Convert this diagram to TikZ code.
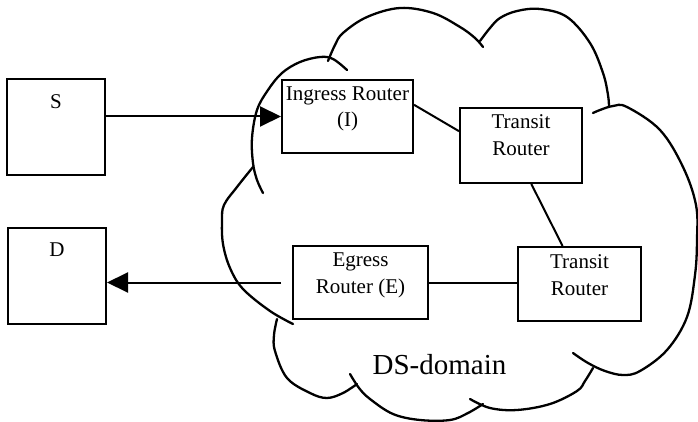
\documentclass[tikz,border=0pt]{standalone}
\usepackage{fontspec}
\setmainfont{Liberation Serif}
\usetikzlibrary{arrows.meta}
\begin{document}
\begin{tikzpicture}[x=1pt,y=-1pt,
  cloudline/.style={line width=2.3pt, line cap=round},
  routerbox/.style={draw, line width=2pt, rectangle, fill=white, inner sep=0pt},
  lbl/.style={anchor=north, inner sep=0pt, align=center, font=\fontsize{21}{26.5}\selectfont},
  conn/.style={line width=2pt},
  arr/.style={line width=2pt, -{Triangle[length=21pt,width=20pt]}}]
\useasboundingbox (0,0) rectangle (698,422);
% cloud
\draw[cloudline] plot[smooth, tension=0.6] coordinates {(347,70) (333,59) (320,57) (300,62) (282,73) (268,90) (257,110) (252,138) (253,163) (257,180) (263,193)};
\draw[cloudline] plot[smooth, tension=0.6] coordinates {(328,61) (335,45) (343,33) (367,17) (400,8) (433,13) (460,27) (475,38) (483,47)};
\draw[cloudline] plot[smooth, tension=0.6] coordinates {(480,41) (490,28) (500,18) (517,11) (540,9) (567,17) (590,43) (603,73) (608,95) (609,107)};
\draw[cloudline] plot[smooth, tension=0.6] coordinates {(593,113) (600,110) (613,106) (627,107) (660,130) (683,167) (696,205) (697,240) (695,275) (687,317) (667,350) (640,371) (623,375) (605,371) (588,363) (573,353)};
\draw[cloudline] plot[smooth, tension=0.6] coordinates {(593,368) (585,381) (577,391) (550,404) (517,410) (490,408) (470,399)};
\draw[cloudline] plot[smooth, tension=0.6] coordinates {(350,374) (359,388) (370,399) (393,414) (420,420) (450,420) (468,413) (483,404)};
\draw[cloudline] plot[smooth, tension=0.6] coordinates {(277,319) (274,335) (275,351) (287,378) (310,393) (327,398) (343,393) (357,384)};
\draw[cloudline] plot[smooth, tension=0.6] coordinates {(293,324) (270,311) (243,289) (230,268) (223,244) (222,221) (224,205) (237,187) (253,167)};
% boxes
\node[routerbox, minimum width=98, minimum height=96,
  label={[lbl, yshift=-16pt]north:S}] (S) at (56,127) {};
\node[routerbox, minimum width=98, minimum height=96,
  label={[lbl, yshift=-16pt]north:D}] (D) at (57,276) {};
\node[routerbox, minimum width=131, minimum height=73,
  label={[lbl, yshift=-7.5pt]north:{Ingress Router\\(I)}}] (ing) at (347.5,116.5) {};
\node[routerbox, minimum width=122, minimum height=75,
  label={[lbl, yshift=-7.5pt]north:{Transit\\Router}}] (t1) at (521,145.5) {};
\node[routerbox, minimum width=123, minimum height=74,
  label={[lbl, yshift=-8.5pt]north:{Transit\\Router}}] (t2) at (579.5,284) {};
\node[routerbox, minimum width=135, minimum height=73,
  label={[lbl, yshift=-8pt]north:{Egress\\Router (E)}}] (eg) at (360.5,282.5) {};
\node[anchor=base, inner sep=0pt, font=\fontsize{29}{33}\selectfont] (dom) at (439.5,374) {DS-domain};
% connectors
\draw[arr] (S.east |- ing.west) -- (ing.west);
\draw[arr, shorten <=11pt] (eg.west) -- (D.east |- eg.west);
\draw[conn] (ing.10) -- (t1.167);
\draw[conn] (t1.-75) -- (t2.114);
\draw[conn] (eg.east) -- (t2.west |- eg.east);
\end{tikzpicture}
\end{document}
